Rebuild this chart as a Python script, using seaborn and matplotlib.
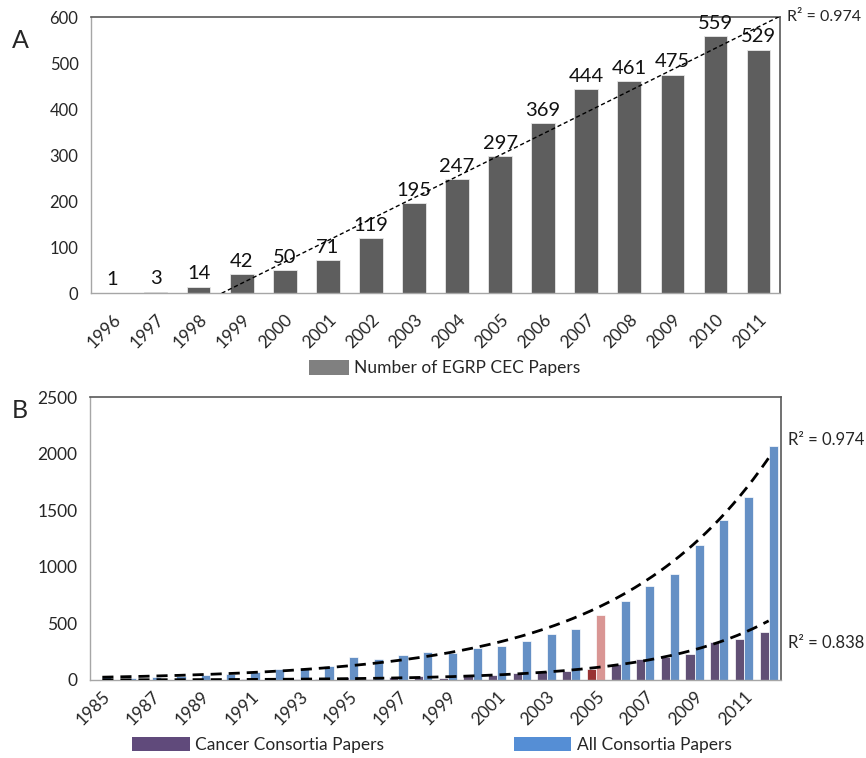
import numpy as np
import pandas as pd
import matplotlib
matplotlib.use("Agg")
import matplotlib.pyplot as plt
from matplotlib.patches import Patch
import seaborn as sns

# ---- Panel A: EGRP CEC papers per year ----
years_a = [str(y) for y in range(1996, 2012)]
cec_papers = [1, 3, 14, 42, 50, 71, 119, 195, 247, 297, 369, 444, 461, 475, 559, 529]
trend_a_start = "1998"          # linear trend fitted from this year on
r2_a = "R² = 0.974"

# ---- Panel B: consortia papers per year ----
years_b = [str(y) for y in range(1985, 2013)]
cancer_papers = [1, 1, 2, 2, 3, 3, 5, 8, 10, 12, 25, 12, 29, 36, 18, 32, 47, 59,
                 77, 83, 100, 141, 183, 206, 230, 338, 362, 424]
all_papers = [25, 20, 27, 35, 41, 50, 74, 97, 106, 127, 200, 186, 221, 250, 235,
              283, 303, 347, 406, 447, 574, 698, 828, 934, 1195, 1411, 1614, 2070]
highlight_year = "2005"
r2_all = "R² = 0.974"
r2_cancer = "R² = 0.838"

sns.set_theme(style="white")
plain = ["Lato", "DejaVu Sans"]
plt.rcParams["font.family"] = plain

W, H = 866, 758
fig = plt.figure(figsize=(W / 100, H / 100), dpi=100)

def frac_box(l, t, r, b):
    return [l / W, 1 - b / H, (r - l) / W, (b - t) / H]

light = "#a6a6a6"
dark = "#595959"

def style_frame(ax):
    for s in ("left", "bottom"):
        ax.spines[s].set_color(light)
        ax.spines[s].set_linewidth(1.0)
    for s in ("top", "right"):
        ax.spines[s].set_color(dark)
        ax.spines[s].set_linewidth(1.2)

# ================= Panel A =================
axA = fig.add_axes(frac_box(91, 17, 780, 293))
dfa = pd.DataFrame({"year": years_a, "papers": cec_papers})
sns.barplot(data=dfa, x="year", y="papers", color="#5e5e5e", width=0.55,
            edgecolor="#e8e8e8", linewidth=0.6, ax=axA)
axA.bar_label(axA.containers[0], labels=[str(v) for v in cec_papers],
              padding=3, fontsize=14.5, color="#111111")

# least-squares linear trend
xa = np.arange(len(years_a))
i0 = years_a.index(trend_a_start)
slope, icpt = np.polyfit(xa[i0:], np.array(cec_papers[i0:], float), 1)
xl = np.array([-0.5, len(years_a) - 0.5])
axA.plot(xl, slope * xl + icpt, color="black", lw=1.0, ls=(0, (3, 2)), zorder=3)

axA.set_xlim(-0.5, len(years_a) - 0.5)
axA.set_ylim(0, 600)
axA.set_yticks(range(0, 601, 100))
axA.set_xlabel("")
axA.set_ylabel("")
style_frame(axA)
axA.set_xticks(np.arange(len(years_a) + 1) - 0.5, [""] * (len(years_a) + 1))
axA.set_xticks(xa, years_a, minor=True)
axA.tick_params(axis="x", which="major", direction="out", length=6, color=light, width=1)
axA.tick_params(axis="x", which="minor", length=0, pad=13, labelsize=12.5)
for lab in axA.get_xticklabels(minor=True):
    lab.set_rotation(45)
    lab.set_ha("right")
    lab.set_rotation_mode("anchor")
axA.tick_params(axis="y", direction="out", length=5, color=light, width=1,
                labelsize=12, pad=4)
axA.text(1.01, 1.0, r2_a, transform=axA.transAxes, ha="left", va="center",
         fontsize=11.5)

fig.legend(handles=[Patch(facecolor="#808080", edgecolor="none",
                          label="Number of EGRP CEC Papers")],
           loc="center", bbox_to_anchor=(445 / W, 1 - 368 / H), frameon=False,
           handlelength=2.3, handleheight=1.0, handletextpad=0.3,
           prop={"size": 12.5})

fig.text(20 / W, 1 - 40 / H, "A", fontsize=18, ha="center", va="center")
fig.text(20 / W, 1 - 410 / H, "B", fontsize=18, ha="center", va="center")

# ================= Panel B =================
axB = fig.add_axes(frac_box(90, 397, 781, 680))
c_purple = "#604a7b"
c_blue = "#558ed5"
dfb = pd.DataFrame({
    "year": years_b * 2,
    "papers": cancer_papers + all_papers,
    "series": ["Cancer Consortia Papers"] * len(years_b) + ["All Consortia Papers"] * len(years_b),
})
sns.barplot(data=dfb, x="year", y="papers", hue="series",
            palette=[c_purple, c_blue], width=0.74, gap=0.0,
            edgecolor="white", linewidth=0.5, ax=axB, legend=False)

hi = years_b.index(highlight_year)
axB.containers[0][hi].set_facecolor("#993333")
axB.containers[1][hi].set_facecolor("#d99694")

# exponential trends (fit on log values)
xb = np.arange(len(years_b))
xs = np.linspace(0, len(years_b) - 1, 300)
for vals in (all_papers, cancer_papers):
    b1, b0 = np.polyfit(xb, np.log(np.array(vals, float)), 1)
    axB.plot(xs, np.exp(b0 + b1 * xs), color="black", lw=2.0,
             ls=(0, (4, 2.5)), zorder=4)

axB.set_xlim(-0.5, len(years_b) - 0.5)
axB.set_ylim(0, 2500)
axB.set_yticks(range(0, 2501, 500))
axB.set_xlabel("")
axB.set_ylabel("")
style_frame(axB)
axB.set_xticks(np.arange(len(years_b) + 1) - 0.5, [""] * (len(years_b) + 1))
axB.set_xticks(xb[::2], years_b[::2], minor=True)
axB.tick_params(axis="x", which="major", direction="inout", length=9, color=light, width=1)
axB.tick_params(axis="x", which="minor", length=0, pad=6, labelsize=12.5)
for lab in axB.get_xticklabels(minor=True):
    lab.set_rotation(45)
    lab.set_ha("right")
    lab.set_rotation_mode("anchor")
axB.tick_params(axis="y", direction="out", length=5, color=light, width=1,
                labelsize=12.5, pad=4)

axB.text(1.01, 0.848, r2_all, transform=axB.transAxes, ha="left", va="center", fontsize=12)
axB.text(1.01, 0.131, r2_cancer, transform=axB.transAxes, ha="left", va="center", fontsize=12)

fig.legend(handles=[Patch(facecolor=c_purple, edgecolor="none", label="Cancer Consortia Papers"),
                    Patch(facecolor=c_blue, edgecolor="none", label="All Consortia Papers")],
           loc="center", bbox_to_anchor=(432 / W, 1 - 745 / H), ncol=2, frameon=False,
           handlelength=3.3, handleheight=0.9, handletextpad=0.3, columnspacing=7.5,
           prop={"size": 12.5})

fig.savefig("out.png", dpi=100, facecolor="white")
